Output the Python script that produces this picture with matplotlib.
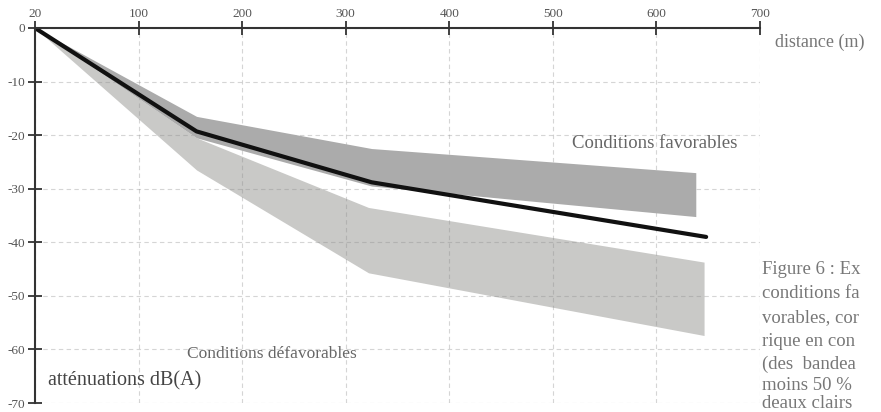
import matplotlib
matplotlib.use("Agg")
import matplotlib.pyplot as plt

# x positions on the axis (origin is labelled 20 m)
dist_line = [0, 156, 325, 648]
atten_line = [0, -19.3, -28.8, -39.0]

dist_fav = [0, 156, 325, 638]
fav_upper = [0, -16.5, -22.5, -27.0]
fav_lower = [0, -20.5, -29.5, -35.2]

dist_defav = [0, 156, 322, 646]
defav_upper = [0, -20.5, -33.5, -43.7]
defav_lower = [0, -26.5, -45.7, -57.4]

xticks = [0, 100, 200, 300, 400, 500, 600, 700]
xticklabels = ["20", "100", "200", "300", "400", "500", "600", "700"]
yticks = [0, -10, -20, -30, -40, -50, -60, -70]
yticklabels = ["0", "-10", "-20", "-30", "-40", "-50", "-60", "-70"]

caption_lines = ["Figure 6 : Ex", "conditions fa", "vorables, cor", "rique en con",
                 "(des  bandea", "moins 50 %", "deaux clairs"]

serif = ["Liberation Serif", "DejaVu Serif"]
plt.rcParams["font.family"] = serif

fig = plt.figure(figsize=(8.81, 4.12), dpi=100)
ax = fig.add_axes([35 / 881, 1 - 403 / 412, (760 - 35) / 881, (403 - 28) / 412])

ax.fill_between(dist_defav, defav_upper, defav_lower, color="#c9c9c7", lw=0, zorder=1)
ax.fill_between(dist_fav, fav_upper, fav_lower, color="#ababab", lw=0, zorder=2)
ax.plot(dist_line, atten_line, color="#111111", lw=3, zorder=4, solid_capstyle="round")

ax.set_xlim(0, 700)
ax.set_ylim(-70, 0)
ax.xaxis.tick_top()
ax.set_xticks(xticks)
ax.set_xticklabels(xticklabels)
ax.set_yticks(yticks)
ax.set_yticklabels(yticklabels)
ax.tick_params(axis="both", direction="inout", length=10, width=1.3, color="#333333",
               labelsize=9.5, labelcolor="#555555", pad=2)
ax.tick_params(axis="x", pad=1)

for s in ["right", "bottom"]:
    ax.spines[s].set_visible(False)
for s in ["left", "top"]:
    ax.spines[s].set_color("#333333")
    ax.spines[s].set_linewidth(1.5)
    ax.spines[s].set_zorder(5)

ax.grid(True, color="#888888", alpha=0.35, lw=0.8, ls=(0, (4, 3)), zorder=3)

ax.text(775 / 881, 1 - 42 / 412, "distance (m)", transform=fig.transFigure,
        fontsize=13, color="#777777", va="center", ha="left")
ax.text(48 / 881, 1 - 381 / 412, "atténuations dB(A)", transform=fig.transFigure,
        fontsize=14.5, color="#444444", va="center", ha="left")
ax.text(572 / 881, 1 - 143 / 412, "Conditions favorables", transform=fig.transFigure,
        fontsize=13.5, color="#666666", va="center", ha="left")
ax.text(187 / 881, 1 - 354 / 412, "Conditions défavorables", transform=fig.transFigure,
        fontsize=12.5, color="#666666", va="center", ha="left")

caption_y = [270, 294, 318, 341, 364, 385, 403]
for txt, yy in zip(caption_lines, caption_y):
    fig.text(762 / 881, 1 - yy / 412, txt, fontsize=13.5, color="#777777",
             va="center", ha="left")

fig.savefig("out.png", dpi=100, facecolor="white")
